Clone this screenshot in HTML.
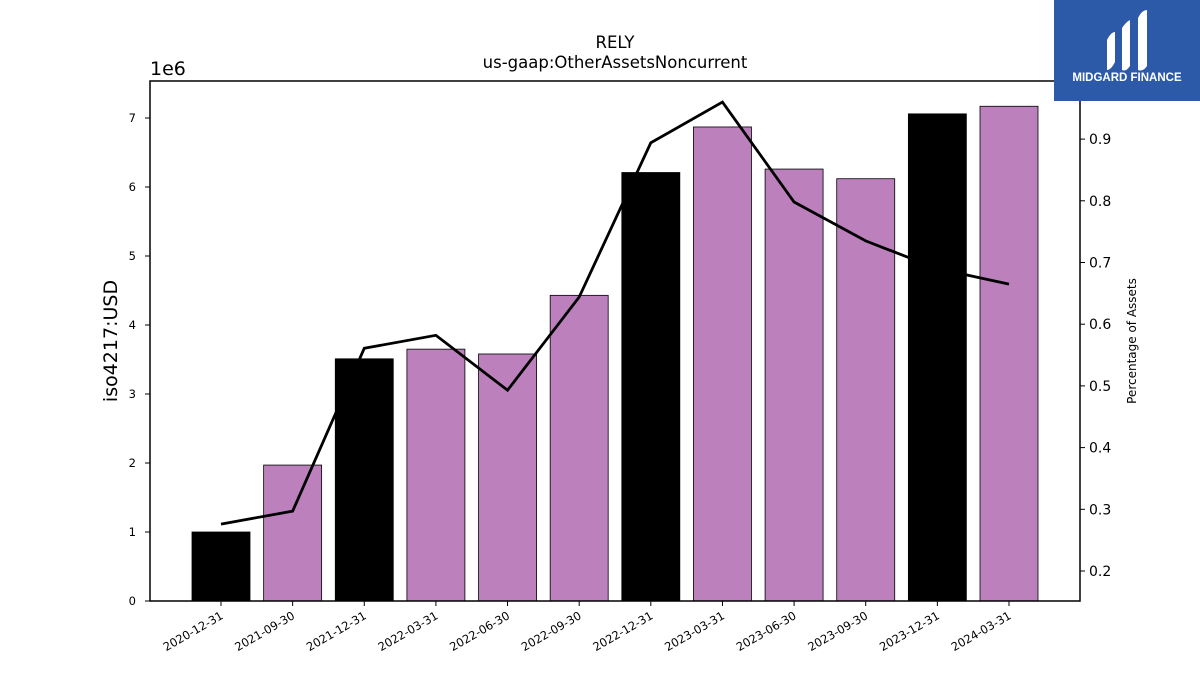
<!DOCTYPE html>
<html><head><meta charset="utf-8"><style>
body{margin:0;background:#fff;}
svg text{font-family:"DejaVu Sans","Liberation Sans",sans-serif;}
</style></head><body>
<svg id="chart" width="1200" height="675" xmlns="http://www.w3.org/2000/svg">
<rect x="0" y="0" width="1200" height="675" fill="#fff"/>
<text x="615" y="48" text-anchor="middle" font-size="16.5">RELY</text>
<text x="615" y="68" text-anchor="middle" font-size="16.5">us-gaap:OtherAssetsNoncurrent</text>
<text x="150" y="75" font-size="19">1e6</text>
<text transform="translate(117,341) rotate(-90)" text-anchor="middle" font-size="19">iso4217:USD</text>
<text transform="translate(1136,341) rotate(-90)" text-anchor="middle" font-size="12">Percentage of Assets</text>
<g id="bars"></g><g id="line"></g><g id="axes"></g>
<rect x="150" y="81" width="930" height="520" fill="none" stroke="#000" stroke-width="1.5"/>
<g>
<rect x="1054" y="0" width="146" height="101" fill="#2d5aa8"/>
<path d="M1107 40 q4-8 8-8 v30 q-4 8-8 8z M1122 28 q4-6 8-8 v46 q-4 6-8 4z M1138 18 q4-8 9-8 v56 q-4 6-9 4z" fill="#fff"/>
<text x="1127" y="81" text-anchor="middle" font-size="11.5" font-weight="bold" fill="#fff" style="font-family:'Liberation Sans',sans-serif">MIDGARD FINANCE</text>
</g>
</svg>
<script>
const categories=["2020-12-31","2021-09-30","2021-12-31","2022-03-31","2022-06-30","2022-09-30","2022-12-31","2023-03-31","2023-06-30","2023-09-30","2023-12-31","2024-03-31"];
const values=[1.0,1.97,3.51,3.65,3.58,4.43,6.21,6.87,6.26,6.12,7.06,7.17];
const pct=[0.276,0.297,0.561,0.582,0.493,0.644,0.894,0.960,0.798,0.735,0.69,0.665];
const leftTicks=[0,1,2,3,4,5,6,7];
const rightTicks=[0.2,0.3,0.4,0.5,0.6,0.7,0.8,0.9];
const NS="http://www.w3.org/2000/svg";
const x=i=>221+i*71.636;
const y=v=>601-v*69;
const y2=v=>571-(v-0.2)*617;
function mk(t,a,p){const e=document.createElementNS(NS,t);for(const k in a)e.setAttribute(k,a[k]);p.appendChild(e);return e;}
const bars=document.getElementById('bars'),line=document.getElementById('line'),axes=document.getElementById('axes');
categories.forEach((c,i)=>{
 const b=mk('rect',{x:x(i)-29,y:y(values[i]),width:58,height:values[i]*69,fill:c.endsWith('12-31')?'#000':'#bc80bd',stroke:'#000','stroke-width':0.8},bars);
 
 
 mk('line',{x1:x(i),x2:x(i),y1:601,y2:606,stroke:'#000'},axes);
 const t=mk('text',{transform:`translate(${x(i)+3},${618}) rotate(-30)`,'text-anchor':'end','font-size':11.5},axes);
 t.textContent=c;
 
 
});
const pl=mk('polyline',{points:pct.map((v,i)=>x(i)+','+y2(v)).join(' '),fill:'none',stroke:'#000','stroke-width':2.8},line);


leftTicks.forEach(v=>{
 mk('line',{x1:145,x2:150,y1:y(v),y2:y(v),stroke:'#000'},axes);
 const t=mk('text',{x:136,y:y(v)+4,'text-anchor':'end','font-size':11.5},axes);t.textContent=v;
 
 
});
rightTicks.forEach(v=>{
 mk('line',{x1:1080,x2:1085,y1:y2(v),y2:y2(v),stroke:'#000'},axes);
 const t=mk('text',{x:1089,y:y2(v)+5,'font-size':14},axes);t.textContent=v.toFixed(1);
 
 
});
</script>
</body></html>
